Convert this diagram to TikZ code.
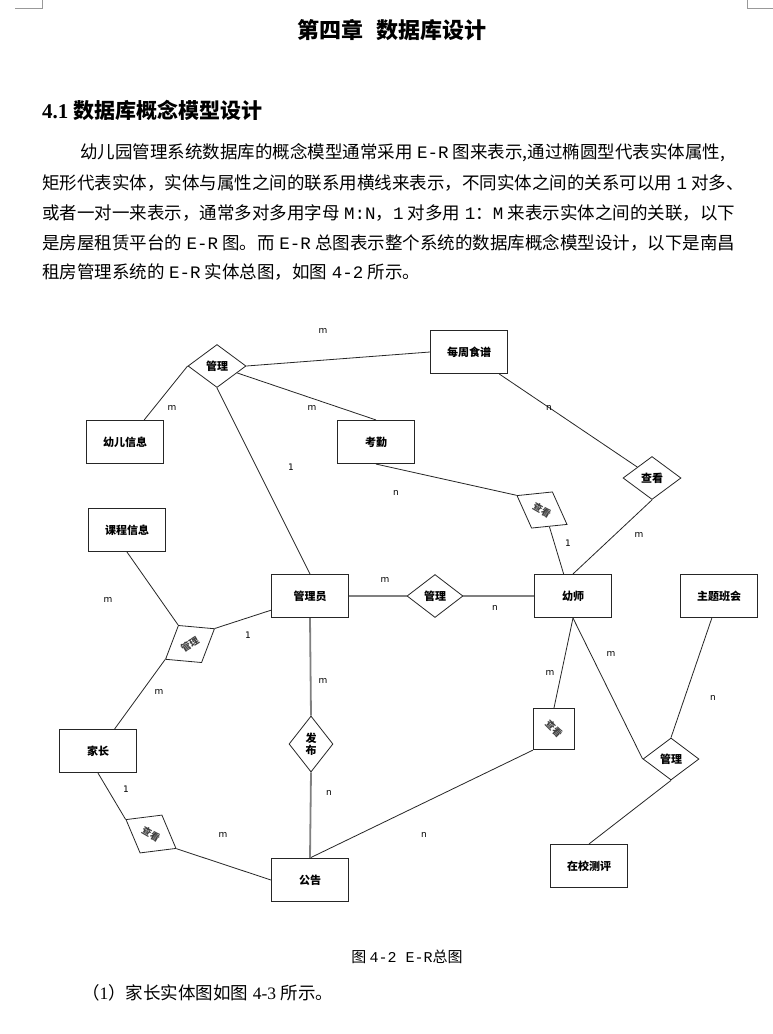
\documentclass[tikz,border=0pt]{standalone}
\usepackage{fontspec}
\setmainfont{Liberation Serif}
\newfontfamily\cjk{Noto Sans CJK SC}
\newfontfamily\monof{Liberation Mono}
\newfontfamily\lblfont{DejaVu Sans}
\usetikzlibrary{shapes.geometric}
\XeTeXlinebreaklocale "zh"
\XeTeXlinebreakskip=0pt plus 1pt
\newcommand{\pline}[2]{\hbox to #1{#2}}
\newcommand{\hsp}{\hspace{0.25em}}
\tikzset{
  entity/.style={draw=black!85, line width=1.1pt, minimum width=77pt, minimum height=43pt,
    inner sep=0pt, font=\cjk\bfseries\fontsize{11}{13}\selectfont},
  rel/.style={diamond, draw=black!85, line width=0.8pt, inner sep=0pt,
    font=\cjk\bfseries\fontsize{11}{12}\selectfont},
  tilted/.style={rel, font=\cjk\bfseries\fontsize{9.5}{10}\selectfont, text=black!75},
  card/.style={inner sep=0pt, font=\lblfont\fontsize{9}{10}\selectfont},
  link/.style={draw=black!85, line width=0.8pt},
  axis/.style={draw=black!50, line width=1.8pt},
  bodyline/.style={anchor=west, inner sep=0pt, font=\cjk\fontsize{17.5}{20}\selectfont},
}
\begin{document}
\begin{tikzpicture}[x=1pt, y=-1pt]
  \fill[white] (0,0) rectangle (773,1034);
  \useasboundingbox (0,0) rectangle (773,1034);
  \draw[black!40] (15,8) -- (42,8) -- (42,0) (773,8) -- (747,8) -- (747,0);
  % page text
  \path
    (392,30) node[font=\cjk\bfseries\fontsize{22}{24}\selectfont] (title){第四章\hspace{0.6em}数据库设计}
    (42,110) node[anchor=west, inner sep=0pt, font=\fontsize{21}{24}\selectfont] (sec){\bfseries 4.1 {\cjk 数据库概念模型设计}}
    (80,153) node[bodyline] (p1){\pline{665pt}{幼儿园管理系统数据库的概念模型通常采用\hsp{\monof E-R}\hsp 图来表示,通过椭圆型代表实体属性,}}
    (42,183) node[bodyline] (p2){\pline{703pt}{矩形代表实体，实体与属性之间的联系用横线来表示，不同实体之间的关系可以用\hsp{\monof 1}\hsp 对多、}}
    (42,213) node[bodyline] (p3){\pline{703pt}{或者一对一来表示，通常多对多用字母\hsp{\monof M:N}，{\monof 1}\hsp 对多用\hsp{\monof 1}：{\monof M}\hsp 来表示实体之间的关联，以下}}
    (42,243) node[bodyline] (p4){\pline{703pt}{是房屋租赁平台的\hsp{\monof E-R}\hsp 图。而\hsp{\monof E-R}\hsp 总图表示整个系统的数据库概念模型设计，以下是南昌}}
    (42,272) node[bodyline] (p5){租房管理系统的\hsp{\monof E-R}\hsp 实体总图，如图\hsp{\monof 4-2}\hsp 所示。}
    (407,957) node[font=\cjk\fontsize{15}{17}\selectfont] (caption){图 {\monof 4-2 E-R}总图}
    (82,993) node[bodyline] (item){（{\rmfamily 1}）家长实体图如图\hsp{\rmfamily 4-3}\hsp 所示。};
  % entities
  \path
    (469,352) node[entity] (meal){每周食谱}
    (125,442) node[entity] (child){幼儿信息}
    (376,442) node[entity] (attend){考勤}
    (127,530) node[entity] (course){课程信息}
    (310,596) node[entity] (admin){管理员}
    (573,596) node[entity] (teacher){幼师}
    (719,596) node[entity] (theme){主题班会}
    (98,751) node[entity] (parent){家长}
    (310,880) node[entity] (notice){公告}
    (589,866) node[entity] (eval){在校测评};
  % relations
  \path
    (217,366) node[rel, minimum width=58pt, minimum height=43pt] (r1){管理}
    (435,596) node[rel, minimum width=56pt, minimum height=43pt] (r2){管理}
    (652,478) node[rel, minimum width=58pt, minimum height=43pt] (r3){查看}
    (671,759) node[rel, minimum width=56pt, minimum height=42pt] (r4){管理}
    (311,744) node[rel, minimum width=44pt, minimum height=56pt, align=center] (r5){发\\布}
    (542,510) node[tilted, rotate=-30, minimum width=58pt, minimum height=42pt] (r6){查看}
    (190,644) node[tilted, rotate=32, minimum width=58pt, minimum height=44pt] (r7){管理}
    (151,834) node[tilted, rotate=-30, minimum width=58pt, minimum height=44pt] (r8){查看}
    (554,729) node[tilted, rotate=-45, minimum width=59pt, minimum height=59pt] (r9){查看};
  \begin{scope}[link]
    \draw (r1.west) to (child.49);
    \draw (r1.east) to (meal.west);
    \draw (r1.-19) to (attend.north);
    \draw (r1.south) to (admin.north);
    \draw (meal.-36) to (r3.north west);
    \draw (r3.south) to (teacher.north);
    \draw (attend.south) to (r6.west);
    \draw (r6.south east) to (teacher.113);
    \draw (course.south) to (r7.north);
    \draw (r7.east) to (admin.200);
    \draw (r7.west) to (parent.53);
    \draw (parent.south) to (r8.west);
    \draw (r8.east) to (notice.west);
    \draw (notice.north) to (r9.south);
    \draw (r9.north west) to (teacher.south);
    \draw (teacher.south) to (r4.west);
    \draw (theme.252) to (r4.north);
    \draw (r4.south) to (eval.north);
  \end{scope}
  \begin{scope}[axis]
    \draw (admin.east) to (r2.west);
    \draw (r2.east) to (teacher.west);
    \draw (admin.south) to (r5.north);
    \draw (r5.south) to (notice.north);
  \end{scope}
  % cardinalities
  \foreach \x/\y/\t [count=\i] in {323/331/m, 172/408/m, 312/408/m, 549/408/n, 291/467/1,
      396/493/n, 568/543/1, 639/535/m, 108/600/m, 385/580/m, 495/608/n, 248/635/1,
      611/654/m, 159/692/m, 323/681/m, 550/673/m, 713/698/n, 126/789/1, 329/793/n,
      223/835/m, 424/835/n}
    \node[card] (c\i) at (\x,\y) {\t};
\end{tikzpicture}
\end{document}
